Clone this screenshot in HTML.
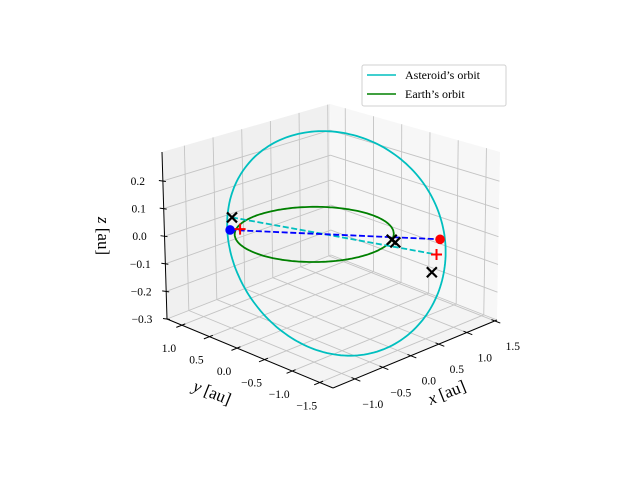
<!DOCTYPE html>
<html><head><meta charset="utf-8"><style>
html,body{margin:0;padding:0;background:#fff;}
svg{display:block;font-family:"Liberation Serif","DejaVu Serif",serif;}
</style></head><body>
<svg id="chart" width="640" height="480" viewBox="0 0 640 480" xmlns="http://www.w3.org/2000/svg">
<g id="panes"></g>
<g id="grid"></g>
<g id="axes"></g>
<g id="series"></g>
<g id="legend">
  <rect x="362" y="65" width="144" height="41" rx="2" fill="#fff" stroke="#d0d0d0" stroke-width="1"/>
  <line x1="367" y1="75" x2="396" y2="75" stroke="#00bfbf" stroke-width="1.6"/>
  <text x="405" y="79" font-size="12">Asteroid’s orbit</text>
  <line x1="367" y1="94" x2="396" y2="94" stroke="#008000" stroke-width="1.6"/>
  <text x="405" y="98" font-size="12">Earth’s orbit</text>
</g>
</svg>
<script>
// ---- data ----
var xTicks = [-1.0, -0.5, 0.0, 0.5, 1.0, 1.5];
var yTicks = [-1.5, -1.0, -0.5, 0.0, 0.5, 1.0];
var zTicks = [-0.3, -0.2, -0.1, 0.0, 0.1, 0.2];
var xTickLabels = ["\u22121.0", "\u22120.5", "0.0", "0.5", "1.0", "1.5"];
var yTickLabels = ["\u22121.5", "\u22121.0", "\u22120.5", "0.0", "0.5", "1.0"];
var zTickLabels = ["\u22120.3", "\u22120.2", "\u22120.1", "0.0", "0.1", "0.2"];
var xLim = [-1.39, 1.54];
var yLim = [-1.74, 1.27];
var zLim = [-0.3, 0.305];
// Earth orbit: unit circle
var earthRadius = [1.0];
// asteroid orbit: center, semi-axis A, semi-axis B (au)
var asteroidCenter = [0.05, -0.35, 0.0];
var asteroidAxisA = [0.985, -0.94, 0.0];
var asteroidAxisB = [0.39, 0.65, 0.33];
// markers (x,y,z)
var blueDots = [[-0.64, 0.857, 0.0]];
var redDots = [[0.97, -1.27, 0.0]];
var redPluses = [[-0.53, 0.79, 0.0], [0.91, -1.27, -0.05]];
var blackCrosses = [[-0.58, 0.88, 0.04], [0.54, -0.84, 0.0], [0.505, -0.94, 0.0], [0.78, -1.32, -0.1]];
var blueDashStart = [-0.64, 0.857, 0.0];
var blueDashEnd = [0.97, -1.27, 0.0];
var blueDash2End = [-0.53, 0.79, 0.0];
var cyanDashStart = [-0.58, 0.88, 0.04];
var cyanDashEnd = [0.91, -1.27, -0.05];

// ---- projection (trilinear between box corners) ----
var C = {
 c000:[333,388], c100:[497,320], c010:[167,319], c110:[331,255],
 c001:[333,203], c101:[500,152], c011:[162,152], c111:[330,104]
};
function P(x,y,z){
  var fx=(x-xLim[0])/(xLim[1]-xLim[0]);
  var fy=(y-yLim[0])/(yLim[1]-yLim[0]);
  var fz=(z-zLim[0])/(zLim[1]-zLim[0]);
  function bl(a,b,c,d,i){return (1-fx)*(1-fy)*a[i]+fx*(1-fy)*b[i]+(1-fx)*fy*c[i]+fx*fy*d[i];}
  var out=[];
  for(var i=0;i<2;i++){
    var lo=bl(C.c000,C.c100,C.c010,C.c110,i), hi=bl(C.c001,C.c101,C.c011,C.c111,i);
    out.push(lo+(hi-lo)*fz);
  }
  return out;
}
var NS="http://www.w3.org/2000/svg";
function mk(parent,tag,attrs){var e=document.createElementNS(NS,tag);for(var k in attrs)e.setAttribute(k,attrs[k]);parent.appendChild(e);return e;}
function poly(pts){return pts.map(function(p){return p[0].toFixed(1)+","+p[1].toFixed(1);}).join(" ");}

var panes=document.getElementById('panes');
var X0=xLim[0],X1=xLim[1],Y0=yLim[0],Y1=yLim[1],Z0=zLim[0],Z1=zLim[1];
var e;
e=mk(panes,'polygon',{points:poly([P(X0,Y1,Z0),P(X1,Y1,Z0),P(X1,Y1,Z1),P(X0,Y1,Z1)]),fill:'#f0f0f0'});


e=mk(panes,'polygon',{points:poly([P(X1,Y0,Z0),P(X1,Y1,Z0),P(X1,Y1,Z1),P(X1,Y0,Z1)]),fill:'#f7f7f7'});


e=mk(panes,'polygon',{points:poly([P(X0,Y0,Z0),P(X1,Y0,Z0),P(X1,Y1,Z0),P(X0,Y1,Z0)]),fill:'#f4f4f4'});



var grid=document.getElementById('grid');
function gl(a,b,name){var l=mk(grid,'line',{x1:a[0],y1:a[1],x2:b[0],y2:b[1],stroke:'#c4c4c4','stroke-width':0.9});

}
xTicks.forEach(function(t){gl(P(t,Y0,Z0),P(t,Y1,Z0),'grid-x-floor');gl(P(t,Y1,Z0),P(t,Y1,Z1),'grid-x-wall');});
yTicks.forEach(function(t){gl(P(X0,t,Z0),P(X1,t,Z0),'grid-y-floor');gl(P(X1,t,Z0),P(X1,t,Z1),'grid-y-wall');});
zTicks.forEach(function(t){gl(P(X0,Y1,t),P(X1,Y1,t),'grid-z-left');gl(P(X1,Y1,t),P(X1,Y0,t),'grid-z-right');});

var axes=document.getElementById('axes');
function al(a,b,name,w){var l=mk(axes,'line',{x1:a[0],y1:a[1],x2:b[0],y2:b[1],stroke:'#000','stroke-width':w||1});

}
function tx(x,y,s,size,name,extra){var t=mk(axes,'text',Object.assign({x:x,y:y,'font-size':size,'text-anchor':'middle'},extra||{}));t.textContent=s;

return t;}
al(P(X0,Y0,Z0),P(X1,Y0,Z0),'x-axis-line');
al(P(X0,Y1,Z0),P(X0,Y0,Z0),'y-axis-line');
al(P(X0,Y1,Z0),P(X0,Y1,Z1),'z-axis-line');
xTicks.forEach(function(t,i){var p=P(t,Y0,Z0),a=P(t,Y0+0.06,Z0),b=P(t,Y0-0.1,Z0);al(a,b,'x-tick');
 tx(p[0]+18,p[1]+29,xTickLabels[i],11.5,'x-tick-label');});
yTicks.forEach(function(t,i){var p=P(X0,t,Z0),a=P(X0+0.06,t,Z0),b=P(X0-0.1,t,Z0);al(a,b,'y-tick');
 tx(p[0]-13,p[1]+27,yTickLabels[i],11.5,'y-tick-label');});
zTicks.forEach(function(t,i){var p=P(X0,Y1,t);al([p[0]-4,p[1]-0.5],[p[0]+3,p[1]+0.5],'z-tick');
 tx(p[0]-25,p[1]+4,zTickLabels[i],11.5,'z-tick-label');});
var xl=tx(447,398,'',17,'x-axis-title',{transform:'rotate(-22 447 393)'});
xl.innerHTML='<tspan font-style="italic">x</tspan> [au]';
var yl=tx(212,398,'',17,'y-axis-title',{transform:'rotate(22 212 393)'});
yl.innerHTML='<tspan font-style="italic">y</tspan> [au]';
var zl=tx(103,241,'',17,'z-axis-title',{transform:'rotate(90 103 236)'});
zl.innerHTML='<tspan font-style="italic">z</tspan> [au]';

var series=document.getElementById('series');
function path3(pts,attrs,name){var d=pts.map(function(p,i){var q=P(p[0],p[1],p[2]);return (i?'L':'M')+q[0].toFixed(1)+' '+q[1].toFixed(1);}).join('');
 var el=mk(series,'path',Object.assign({d:d,fill:'none'},attrs));
 
 }
var N=200,ast=[],earth=[];
for(var k=0;k<=N;k++){var a=2*Math.PI*k/N,c=Math.cos(a),s=Math.sin(a);
 ast.push([asteroidCenter[0]+asteroidAxisA[0]*c+asteroidAxisB[0]*s,asteroidCenter[1]+asteroidAxisA[1]*c+asteroidAxisB[1]*s,asteroidCenter[2]+asteroidAxisA[2]*c+asteroidAxisB[2]*s]);
 earth.push([earthRadius[0]*c,earthRadius[0]*s,0]);}
path3(ast,{stroke:'#00bfbf','stroke-width':1.8},'asteroid-orbit');
path3(earth,{stroke:'#008000','stroke-width':1.8},'earth-orbit');
path3([cyanDashStart,cyanDashEnd],{stroke:'#00bfbf','stroke-width':1.8,'stroke-dasharray':'6 2.6'},'asteroid-dashed-link');
path3([blueDashStart,blueDashEnd],{stroke:'#0000ff','stroke-width':1.8,'stroke-dasharray':'6 2.6'},'earth-dashed-link');
path3([blueDashStart,blueDash2End],{stroke:'#0000ff','stroke-width':1.8,'stroke-dasharray':'6 2.6'},'earth-short-link');
blueDots.forEach(function(p){var q=P(p[0],p[1],p[2]);var c=mk(series,'circle',{cx:q[0],cy:q[1],r:4.8,fill:'#0000ff'});
 
 });
redDots.forEach(function(p){var q=P(p[0],p[1],p[2]);var c=mk(series,'circle',{cx:q[0],cy:q[1],r:4.8,fill:'#ff0000'});
 
 });
blackCrosses.forEach(function(p){var q=P(p[0],p[1],p[2]),r=5;
 var g=mk(series,'path',{d:'M'+(q[0]-r)+' '+(q[1]-r)+'L'+(q[0]+r)+' '+(q[1]+r)+'M'+(q[0]-r)+' '+(q[1]+r)+'L'+(q[0]+r)+' '+(q[1]-r),stroke:'#000','stroke-width':2.2});
 
 });
redPluses.forEach(function(p){var q=P(p[0],p[1],p[2]),r=5.5;
 var g=mk(series,'path',{d:'M'+(q[0]-r)+' '+q[1]+'L'+(q[0]+r)+' '+q[1]+'M'+q[0]+' '+(q[1]-r)+'L'+q[0]+' '+(q[1]+r),stroke:'#ff0000','stroke-width':2});
 
 });
</script>
</body></html>
